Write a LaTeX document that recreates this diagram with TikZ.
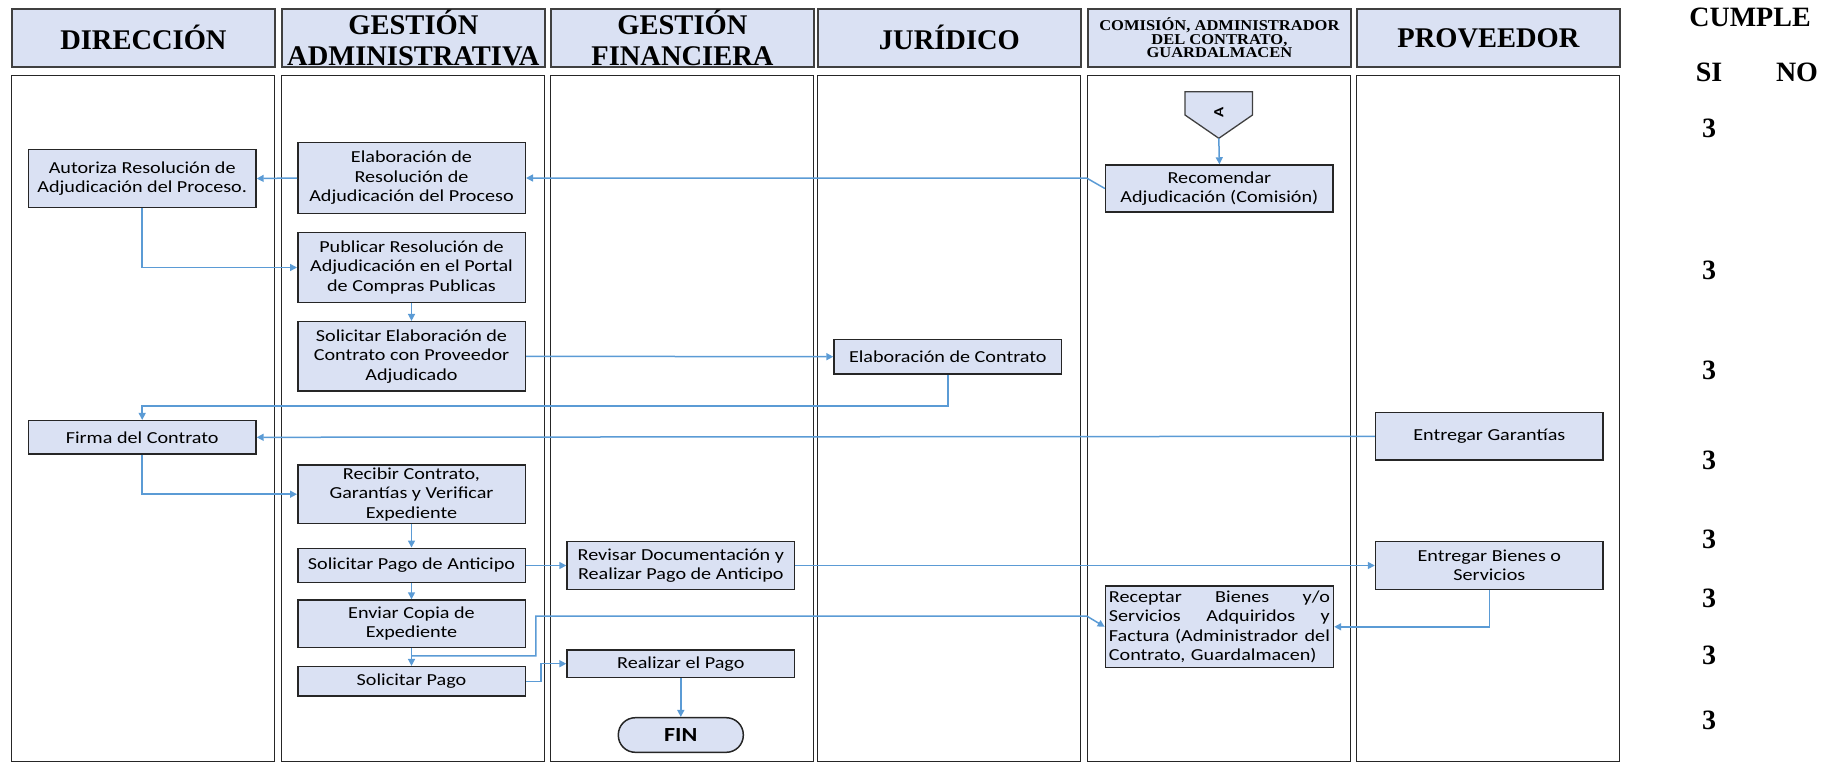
\documentclass[tikz,border=0pt]{standalone}
\usepackage{fontspec}
\setmainfont{Liberation Serif}
\newfontfamily\boxfont{Carlito}[FakeStretch=1.2]
\newfontfamily\smallhead{Liberation Serif}[FakeStretch=1.1]
\usetikzlibrary{arrows.meta}
\definecolor{boxfill}{HTML}{DAE1F3}
\definecolor{flowblue}{HTML}{5B9BD5}
\newcommand{\jline}[1]{\makebox[221pt][s]{#1}}

\begin{document}
\begin{tikzpicture}[x=1pt,y=-1pt,
            lane/.style={draw=black!85,line width=1.3pt,anchor=north west,minimum width=263pt,minimum height=686pt,inner sep=0pt},
            head/.style={draw=black!75,line width=1.8pt,fill=boxfill,anchor=north west,minimum width=263pt,minimum height=58pt,inner sep=0pt,align=center,font=\fontsize{28.5}{31.7}\selectfont\bfseries},
            proc/.style={draw=black!85,line width=1.5pt,fill=boxfill,minimum width=227.5pt,inner sep=2pt,align=center,font=\boxfont\fontsize{16.8}{19.5}\selectfont},
            flow/.style={draw=flowblue,line width=1.5pt,-{Triangle[length=7pt,width=7pt]}},
            score/.style={font=\fontsize{28}{28}\selectfont\bfseries}
        ]
        \useasboundingbox (0,0) rectangle (1838,763);
        \node[head] (hdir) at (11,8) {DIRECCIÓN};
        \node[head] (hadm) at (281,8) {GESTIÓN\\ADMINISTRATIVA};
        \node[head] (hfin) at (550,8) {GESTIÓN\\FINANCIERA};
        \node[head] (hjur) at (817,8) {JURÍDICO};
        \node[head,font=\smallhead\fontsize{15}{13.5}\selectfont\bfseries] (hcom) at (1087,8) {COMISIÓN, ADMINISTRADOR\\DEL CONTRATO,\\GUARDALMACEN};
        \node[head] (hprov) at (1356,8) {PROVEEDOR};
        \node[lane] (ldir) at (11,75) {};
        \node[lane] (ladm) at (281,75) {};
        \node[lane] (lfin) at (550,75) {};
        \node[lane] (ljur) at (817,75) {};
        \node[lane] (lcom) at (1087,75) {};
        \node[lane] (lprov) at (1356,75) {};

        \node[score] (cumple) at (1750,17) {CUMPLE};
        \node[score] (si) at (1709,72.5) {SI};
        \node[score] (no) at (1797,72.5) {NO};
        \node[score] (s1) at (1709,128) {3};
        \node[score] (s2) at (1709,270) {3};
        \node[score] (s3) at (1709,370) {3};
        \node[score] (s4) at (1709,460) {3};
        \node[score] (s5) at (1709,539) {3};
        \node[score] (s6) at (1709,598) {3};
        \node[score] (s7) at (1709,655) {3};
        \node[score] (s8) at (1709,720) {3};

        \draw[draw=black!75,line width=1.3pt,fill=boxfill] (1185,91.7) -- (1252.5,91.7) -- (1252.5,115) -- (1218.8,138.3) -- (1185,115) -- cycle;
        \node[rotate=90,font=\boxfont\bfseries\fontsize{14}{14}\selectfont] (conA) at (1218.8,112) {A};
        \coordinate (atip) at (1218.8,138.3);

        \node[proc,minimum height=58.4pt] (autoriza) at (142.2,178.5) {Autoriza Resolución de\\Adjudicación del Proceso.};
        \node[proc,minimum height=71.4pt] (elabres) at (411.5,178) {Elaboración de\\Resolución de\\Adjudicación del Proceso};
        \node[proc,minimum height=47pt] (recom) at (1219.4,188.5) {Recomendar\\Adjudicación (Comisión)};
        \node[proc,minimum height=70.4pt] (publicar) at (411.5,267.5) {Publicar Resolución de\\Adjudicación en el Portal\\de Compras Publicas};
        \node[proc,minimum height=69.3pt] (solelab) at (411.5,356.3) {Solicitar Elaboración de\\Contrato con Proveedor\\Adjudicado};
        \node[proc,minimum height=34.7pt] (elabcon) at (947.8,356.7) {Elaboración de Contrato};
        \node[proc,minimum height=33.3pt] (firma) at (142.2,437.3) {Firma del Contrato};
        \node[proc,minimum height=47.3pt] (garantias) at (1489.3,436.3) {Entregar Garantías};
        \node[proc,minimum height=58.3pt] (recibir) at (411.5,494.2) {Recibir Contrato,\\Garantías y Verificar\\Expediente};
        \node[proc,minimum height=34.4pt] (solant) at (411.5,565.5) {Solicitar Pago de Anticipo};
        \node[proc,minimum height=47.6pt] (revisar) at (680.8,565.5) {Revisar Documentación y\\Realizar Pago de Anticipo};
        \node[proc,minimum height=47.6pt] (bienes) at (1489.3,565.5) {Entregar Bienes o\\Servicios};
        \node[proc,minimum height=47.3pt] (enviar) at (411.5,623.7) {Enviar Copia de\\Expediente};
        \node[proc,text width=221pt,align=left,inner sep=3.5pt,minimum height=81.7pt] (receptar) at (1219.4,626.8) {\jline{Receptar\hfill Bienes\hfill y/o}\\\jline{Servicios\hfill Adquiridos\hfill y}\\\jline{Factura (Administrador\hfill del}\\Contrato, Guardalmacen)};
        \node[proc,minimum height=29.3pt] (solpago) at (411.5,681.3) {Solicitar Pago};
        \node[proc,minimum height=27.3pt] (realizar) at (680.8,663.7) {Realizar el Pago};
        \node[proc,minimum width=125pt,minimum height=34.6pt,rounded corners=17pt,font=\boxfont\bfseries\fontsize{20}{20}\selectfont] (fin) at (680.8,735) {FIN};

        \draw[flow] (atip) -- (recom.north);
        \draw[flow] (recom.west) -- ([xshift=-18pt,yshift=10.3pt]recom.west) -- (elabres.east);
        \draw[flow] (elabres.west) -- (autoriza.east);
        \draw[flow] (autoriza.south) |- (publicar.west);
        \draw[flow] (publicar.south) -- (solelab.north);
        \draw[flow] (solelab.east) -- (elabcon.west);
        \draw[flow] (elabcon.south) -- ++(0,31) -| (firma.north);
        \draw[flow] (garantias.west) -- (firma.east);
        \draw[flow] (firma.south) |- (recibir.west);
        \draw[flow] (recibir.south) -- (solant.north);
        \draw[flow] (solant.east) -- (revisar.west);
        \draw[flow] (revisar.east) -- (bienes.west);
        \draw[flow] (solant.south) -- (enviar.north);
        \draw[flow] (enviar.south) -- (solpago.north);
        \draw[flow] ([yshift=-7.7pt]enviar.south) -- ++(124.4,0) |- ([xshift=-18pt,yshift=10.8pt]receptar.west) -- (receptar.west);
        \draw[flow] (solpago.east) -- ++(15,0) |- (realizar.west);
        \draw[flow] (realizar.south) -- (fin.north);
        \draw[flow] (bienes.south) |- (receptar.east);
    \end{tikzpicture}
\end{document}
